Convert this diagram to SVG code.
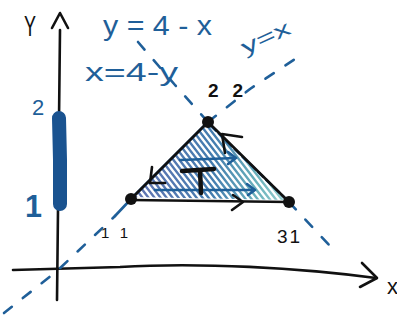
<svg xmlns="http://www.w3.org/2000/svg" width="397" height="322" viewBox="0 0 397 322">
  <style>
    .ink{fill:none;stroke:#111;stroke-width:2.6;stroke-linecap:round;stroke-linejoin:round}
    .blue{fill:none;stroke:#1f5f99;stroke-width:2.6;stroke-linecap:round;stroke-linejoin:round}
    .dash{stroke-dasharray:10 14}
    .sdash{stroke-dasharray:7 4}
    .bt{font-family:"Liberation Sans","DejaVu Sans",sans-serif;fill:#1f5f99}
    .kt{font-family:"Liberation Sans","DejaVu Sans",sans-serif;fill:#111}
    .vtx{fill:#111}
  </style>
  <defs>
    <clipPath id="tri">
      <polygon points="131,197 208,123 288,200"/>
    </clipPath>
    <linearGradient id="hg" gradientUnits="userSpaceOnUse" x1="140" y1="0" x2="285" y2="0">
      <stop offset="0" stop-color="#4f66aa"/>
      <stop offset="0.5" stop-color="#2f6ea6"/>
      <stop offset="0.8" stop-color="#5aa8b4"/>
      <stop offset="1" stop-color="#8acaca"/>
    </linearGradient>
  </defs>
  <rect width="397" height="322" fill="#fff"/>

  <!-- axes -->
  <g id="axes">
    <path class="ink" d="M60,30 L59,120 L58,210 L57,300"/>
    <path class="ink" d="M52,28 L60,13 L68,28"/>
    <path class="ink" d="M13,270 L120,267 C200,262 300,268 376,278"/>
    <path class="ink" d="M362,263 L377,278 L360,287"/>
    <text class="kt" x="24" y="36" font-size="30" textLength="12" lengthAdjust="spacingAndGlyphs">Y</text>
    <text class="kt" x="387" y="294" font-size="22">x</text>
  </g>

  <!-- projection on y axis -->
  <g id="yrange">
    <path d="M59,118 L60,160 L60,204" fill="none" stroke="#1a5390" stroke-width="14" stroke-linecap="round"/>
    <text class="bt" x="32" y="115" font-size="22">2</text>
    <text class="bt" x="25" y="217" font-size="32" font-weight="bold" textLength="17" lengthAdjust="spacingAndGlyphs">1</text>
  </g>

  <!-- hatching of region T -->
  <g id="region" clip-path="url(#tri)">
    <path fill="none" stroke="url(#hg)" stroke-width="2.4" stroke-linecap="round" opacity="0.9"
      d="M63,110 L140,210 M69,110 L146,210 M75,110 L152,210 M81,110 L158,210 M87,110 L164,210 M93,110 L170,210 M99,110 L176,210 M105,110 L182,210 M111,110 L188,210 M117,110 L194,210 M123,110 L200,210 M129,110 L206,210 M135,110 L212,210 M141,110 L218,210 M147,110 L224,210 M153,110 L230,210 M159,110 L236,210 M165,110 L242,210 M171,110 L248,210 M177,110 L254,210 M183,110 L260,210 M189,110 L266,210 M195,110 L272,210 M201,110 L278,210 M207,110 L284,210 M213,110 L290,210 M219,110 L296,210"/>
  </g>

  <!-- reference lines -->
  <g id="lines">
    <path class="blue dash" d="M4,313 L57,271 L115,216"/>
    <path class="blue" d="M115,216 L131,199 L208,122"/>
    <path class="blue dash" d="M208,122 L250,89 L298,57"/>
    <path class="blue dash" d="M138,42 L175,85 L208,122"/>
    <path class="blue sdash" d="M211,126 L289,202"/>
    <path class="blue dash" d="M289,202 L330,246"/>
    <text class="bt" x="103" y="35" font-size="28" textLength="109" lengthAdjust="spacingAndGlyphs">y = 4 - x</text>
    <text class="bt" x="85" y="81" font-size="26" textLength="93" lengthAdjust="spacingAndGlyphs">x=4-y</text>
    <text class="bt" x="245" y="55" font-size="21" textLength="52" lengthAdjust="spacingAndGlyphs" transform="rotate(-25 245 55)">y=x</text>
  </g>

  <!-- connectors: triangle edges with direction -->
  <g id="connectors">
    <path class="ink" d="M131,199 L208,122"/>
    <path class="ink" d="M208,122 L289,202"/>
    <path class="ink" d="M131,200 L289,202"/>
    <path class="ink" d="M233,195 L243,202 L232,210"/>
    <path class="ink" d="M242,137 L222,134 L225,153"/>
    <path class="ink" d="M152,167 L150,183 L165,183"/>
    <path class="blue" stroke-width="3" d="M180,160 L236,158 M228,152 L236,158 L228,164"/>
    <path class="blue" stroke-width="3" d="M155,190 L255,190 M247,184 L255,190 L248,195"/>
    <path d="M182,171 L214,169 M200,170 L201,193" fill="none" stroke="#111" stroke-width="4.5" stroke-linecap="round"/>
  </g>

  <!-- vertices -->
  <g id="v11">
    <circle class="vtx" cx="131" cy="199" r="6"/>
    <text class="kt" x="101" y="238" font-size="15" textLength="27" lengthAdjust="spacing">1 1</text>
  </g>
  <g id="v22">
    <circle class="vtx" cx="208" cy="122" r="6"/>
    <text class="kt" x="208" y="97" font-size="19" textLength="35" lengthAdjust="spacing" font-weight="bold">22</text>
  </g>
  <g id="v31">
    <circle class="vtx" cx="289" cy="202" r="6"/>
    <text class="kt" x="277" y="243" font-size="19" textLength="23" lengthAdjust="spacing">31</text>
  </g>
</svg>
